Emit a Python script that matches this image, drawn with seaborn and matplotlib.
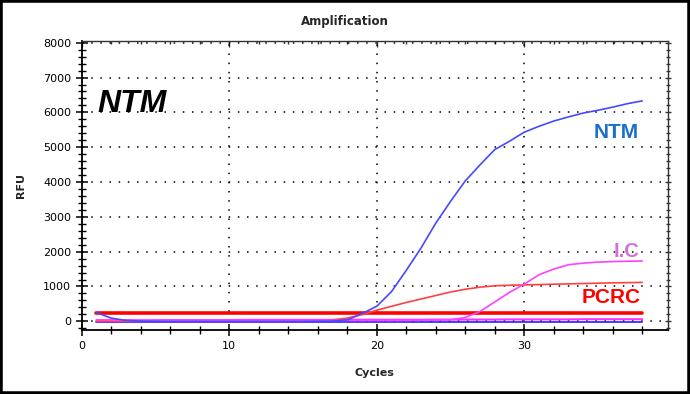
import matplotlib
matplotlib.use("Agg")
import matplotlib.pyplot as plt
from matplotlib.ticker import MultipleLocator, NullFormatter
import seaborn as sns
import pandas as pd
import numpy as np

cycles = list(range(1, 39))

# NTM target (FAM)
ntm = [250, 90, 25, 5, 0, -5, -5, -5, -5, -5, -5, -5, -5, -5, -5, 0, 5, 40, 220, 430,
       850, 1460, 2100, 2815, 3440, 4030, 4490, 4930, 5170, 5430, 5600, 5750, 5870, 5980,
       6060, 6150, 6250, 6330]
# PCR reagent control
pcrc = [0, 0, 0, 0, 0, 0, 0, 0, 0, 0, 0, 0, 0, 0, 0, 10, 40, 90, 190, 318,
        430, 540, 640, 740, 840, 920, 980, 1020, 1035, 1045, 1055, 1065, 1075, 1085,
        1095, 1105, 1110, 1117]
# internal control
ic = [40, 30, 25, 25, 25, 25, 25, 25, 25, 25, 25, 25, 25, 25, 25, 25, 25, 25, 25, 25,
      25, 25, 30, 35, 40, 110, 280, 555, 830, 1067, 1335, 1500, 1625, 1670,
      1700, 1715, 1725, 1732]
# negative wells (flat)
neg_mag = [30, 30, 30, 30, 30, 35, 35, 35, 35, 35, 40, 40, 40, 40, 40, 40, 40, 45, 45, 45,
           45, 45, 45, 50, 50, 50, 50, 50, 55, 55, 55, 55, 55, 60, 60, 60, 60, 60]
neg_blue = [-20] * 38
threshold = [250] * 38

df = pd.DataFrame({"Cycles": cycles, "ntm": ntm, "pcrc": pcrc, "ic": ic,
                   "neg_mag": neg_mag, "neg_blue": neg_blue, "thr": threshold})

sns.set_style("ticks")
plt.rcParams["font.family"] = ["DejaVu Sans"]

fig = plt.figure(figsize=(6.9, 3.94), dpi=100)
ax = fig.add_axes([81.7 / 690, 1 - 330 / 394, (668 - 81.7) / 690, (330 - 41) / 394])

sns.lineplot(data=df, x="Cycles", y="neg_blue", color="#2020ff", lw=1.2, ax=ax)
sns.lineplot(data=df, x="Cycles", y="neg_mag", color="#ff30ff", lw=1.5, ax=ax)
sns.lineplot(data=df, x="Cycles", y="thr", color="#ff0000", lw=2.6, ax=ax)
sns.lineplot(data=df, x="Cycles", y="pcrc", color="#ff4040", lw=1.2, ax=ax)
sns.lineplot(data=df, x="Cycles", y="ic", color="#ff40ff", lw=1.2, ax=ax)
sns.lineplot(data=df, x="Cycles", y="ntm", color="#4848ff", lw=1.2, ax=ax)

ax.set_xlim(0, 39.75)
ax.set_ylim(-250, 8050)
ax.xaxis.set_major_locator(MultipleLocator(10))
ax.xaxis.set_minor_locator(MultipleLocator(2))
ax.yaxis.set_major_locator(MultipleLocator(1000))
ax.yaxis.set_minor_locator(MultipleLocator(200))
ax.grid(True, which="major", color="black", linestyle=(0, (1, 5)), lw=1.1)

for s in ["top", "right"]:
    ax.spines[s].set_color("#333333")
    ax.spines[s].set_linewidth(1.0)
for s in ["left", "bottom"]:
    ax.spines[s].set_color("black")
    ax.spines[s].set_linewidth(1.3)

ax.tick_params(axis="both", which="major", direction="inout", length=8, width=1.1,
               labelsize=8, colors="black")
ax.tick_params(axis="both", which="minor", direction="inout", length=6, width=1,
               colors="black")
ax.tick_params(axis="x", which="both", pad=4)

# inward ticks along the top and right frame
top = ax.secondary_xaxis("top")
top.xaxis.set_major_locator(MultipleLocator(10))
top.xaxis.set_minor_locator(MultipleLocator(2))
top.xaxis.set_major_formatter(NullFormatter())
top.tick_params(which="major", direction="in", length=4, width=1, colors="#333333")
top.tick_params(which="minor", direction="in", length=2.5, width=1, colors="#333333")
top.spines["top"].set_visible(False)
right = ax.secondary_yaxis("right")
right.yaxis.set_major_locator(MultipleLocator(1000))
right.yaxis.set_minor_locator(MultipleLocator(200))
right.yaxis.set_major_formatter(NullFormatter())
right.tick_params(which="major", direction="inout", length=5, width=1, colors="#333333")
right.tick_params(which="minor", direction="inout", length=3.5, width=1, colors="#333333")
right.spines["right"].set_visible(False)

fig.text(0.5, 1 - 22 / 394, "Amplification", fontsize=8.5, fontweight="bold",
         ha="center", va="center")
ax.set_xlabel("Cycles", fontsize=8, fontweight="bold", labelpad=12)
ax.set_ylabel("RFU", fontsize=8, fontweight="bold", labelpad=12)

ax.text(1.1, 6020, "NTM", fontsize=23, fontweight="bold", fontstyle="italic",
        family="Liberation Sans", color="black", ha="left", va="baseline")
ax.text(37.8, 5250, "NTM", fontsize=15, fontweight="bold", family="Liberation Sans",
        color="#1a70c8", ha="right", va="baseline")
ax.text(37.8, 1856, "I.C", fontsize=14.5, fontweight="bold", family="Liberation Sans",
        color="#d670d6", ha="right", va="baseline")
ax.text(37.9, 534, "PCRC", fontsize=15, fontweight="bold", family="Liberation Sans",
        color="#ff0000", ha="right", va="baseline")

fig.add_artist(plt.Rectangle((0, 0), 1, 1, transform=fig.transFigure, fill=False,
                             lw=4, ec="black"))

fig.savefig("out.png", dpi=100)
